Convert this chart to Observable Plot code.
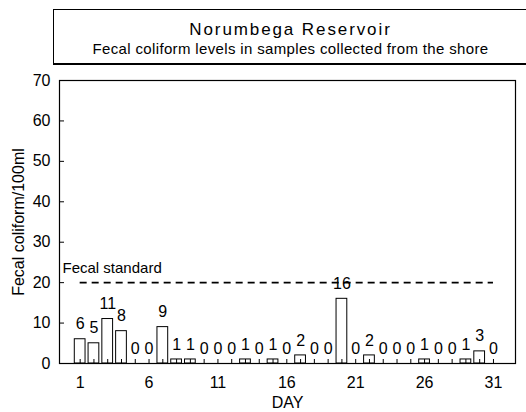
<!DOCTYPE html>
<html><head><meta charset="utf-8">
<script src="https://cdn.jsdelivr.net/npm/d3@7"></script>
<script src="https://cdn.jsdelivr.net/npm/@observablehq/plot@0.6"></script>
<style>
body{margin:0;background:#fff;font-family:"Liberation Sans",Arial,sans-serif;}
#wrap{position:relative;width:526px;height:412px;overflow:hidden;background:#fff;}
#chart{position:absolute;left:0;top:0;}
#title{position:absolute;left:53px;top:9px;width:475px;height:56px;border:1px solid #000;border-bottom-width:2px;box-sizing:border-box;text-align:center;color:#000;}
#t1{position:absolute;left:0;right:0;top:10px;font-size:17px;letter-spacing:1.9px;line-height:19px;}
#t2{position:absolute;left:0;right:0;top:30px;font-size:15px;letter-spacing:0.35px;line-height:17px;}
</style>
</head><body>
<div id="wrap">
<div id="chart"></div>
<div id="title"><div id="t1">Norumbega Reservoir</div><div id="t2">Fecal coliform levels in samples collected from the shore</div></div>
</div>
<script>
const days = d3.range(1, 32);
const values = [6,5,11,8,0,0,9,1,1,0,0,0,1,0,1,0,2,0,0,16,0,2,0,0,0,1,0,0,1,3,0];
const xTickLabels = [1,6,11,16,21,26,31];
const yTicks = [0,10,20,30,40,50,60,70];
const standard = 20;
const standardLabel = "Fecal standard";
const yLabel = "Fecal coliform/100ml";
const xLabel = "DAY";

const data = days.map((d, i) => ({day: d, value: values[i]}));
const half = 0.39;
const font = "Liberation Sans, Arial, sans-serif";

const chart = Plot.plot({
  width: 526,
  height: 412,
  marginLeft: 59,
  marginRight: 11,
  marginTop: 80,
  marginBottom: 49,
  style: {fontFamily: font, fontSize: "16px", color: "#000", background: "transparent"},
  x: {domain: [-0.5, 32.6]},
  y: {domain: [0, 70]},
  marks: [
    Plot.rect(data, {x1: d => d.day - half, x2: d => d.day + half, y1: 0, y2: "value", fill: "white", stroke: "black", strokeWidth: 1}),
    Plot.ruleY([standard], {x1: days[0], x2: days[days.length - 1], stroke: "black", strokeWidth: 1.6, strokeDasharray: "7,5"}),
    Plot.text([standardLabel], {frameAnchor: "left", y: () => standard, text: d => d, textAnchor: "start", dx: 3, dy: -14, fontSize: 15, fill: "black"}),
    Plot.text(data, {x: "day", y: "value", text: d => String(d.value), dy: -15, fontSize: 16, fill: "black"}),
    Plot.axisY({ticks: yTicks, tickSize: 0, tickPadding: 9, fontSize: 16, label: yLabel, labelAnchor: "center", labelArrow: "none", labelOffset: 47}),
    Plot.axisY({ticks: yTicks.slice(1, -1), tickSize: 5, dx: 5, tickFormat: () => "", label: null}),
    Plot.axisX({ticks: xTickLabels, tickSize: 0, tickPadding: 13, fontSize: 16, label: xLabel, labelAnchor: "center", labelArrow: "none", labelOffset: 44}),
    Plot.axisX({ticks: days, tickSize: 4, dy: -4, tickFormat: () => "", label: null}),
    Plot.frame({stroke: "black", strokeWidth: 1.2})
  ]
});
document.getElementById("chart").appendChild(chart);
</script>
</body></html>
